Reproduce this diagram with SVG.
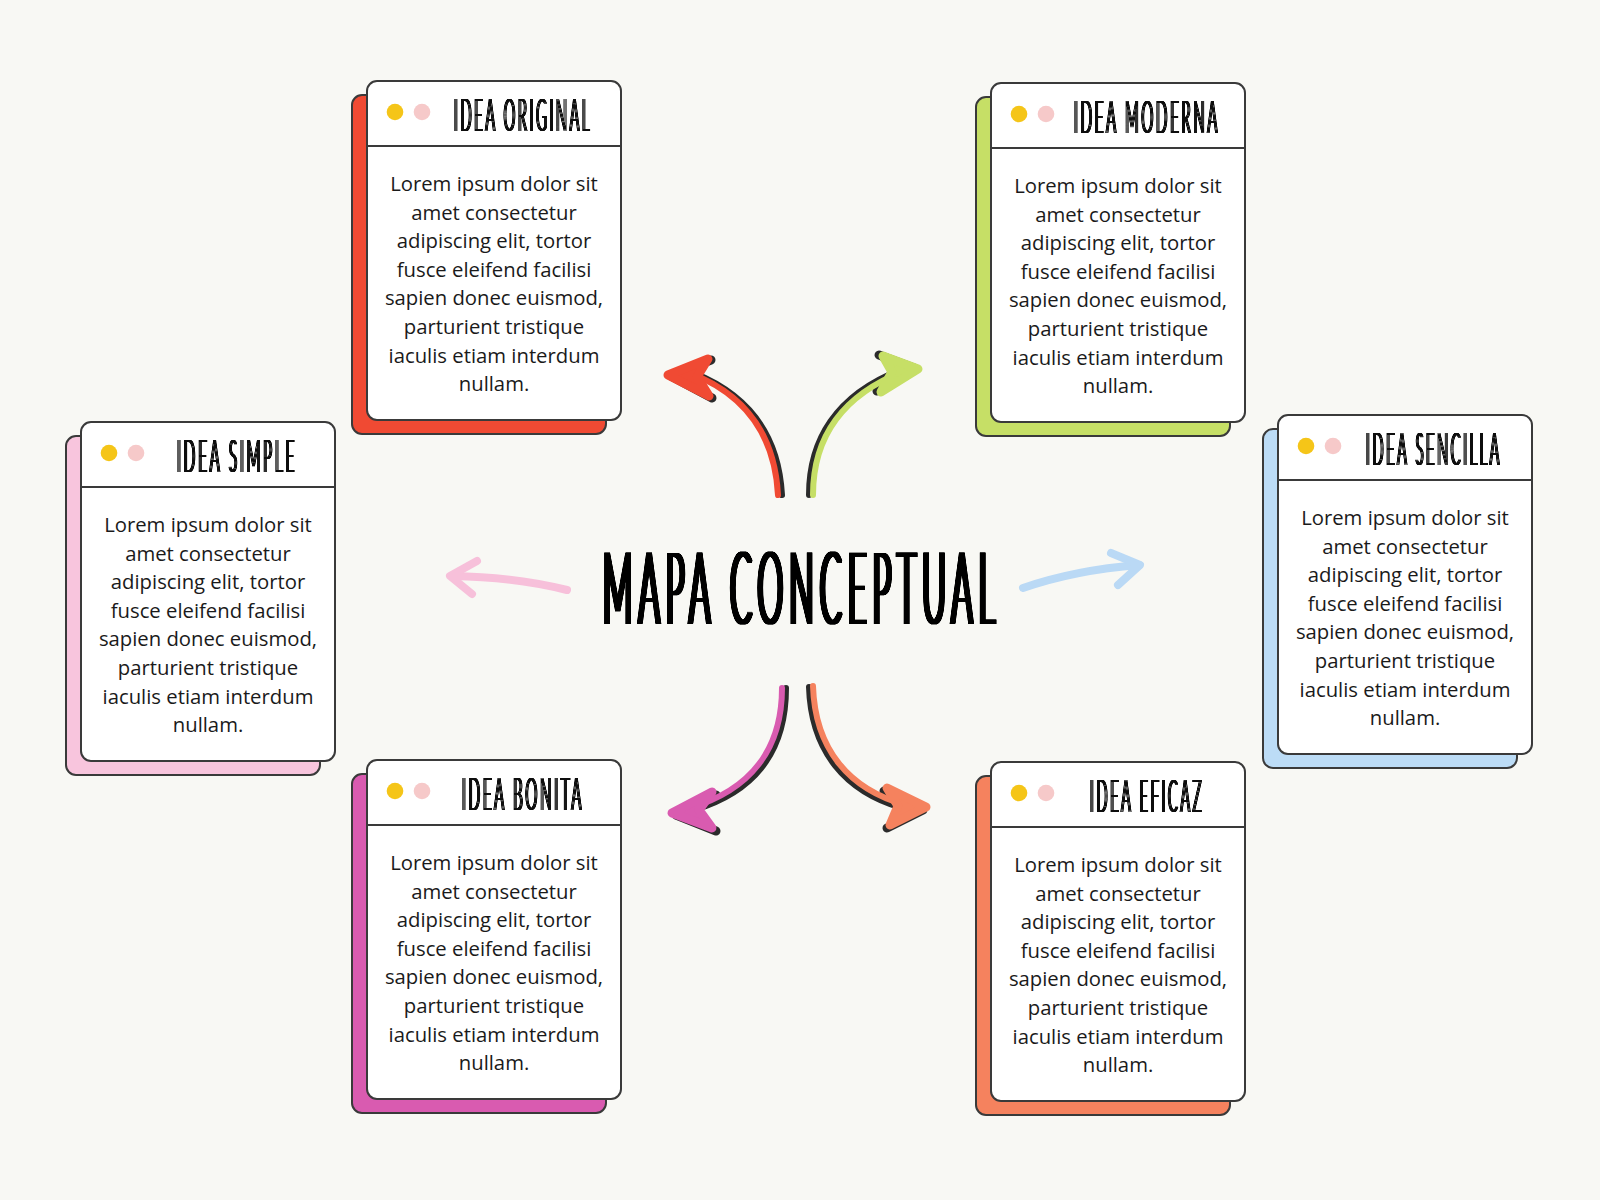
<svg xmlns="http://www.w3.org/2000/svg" width="1600" height="1200" viewBox="0 0 1600 1200">
<defs>
<filter id="fatT" x="-5%" y="-10%" width="110%" height="120%">
<feMorphology operator="dilate" radius="2 0"/>
<feComponentTransfer><feFuncA type="linear" slope="1.6"/></feComponentTransfer>
</filter>
<filter id="fatH" x="-5%" y="-10%" width="110%" height="120%">
<feMorphology operator="dilate" radius="1 0"/>
<feComponentTransfer><feFuncA type="linear" slope="1.6"/></feComponentTransfer>
</filter>
</defs>
<style>
.bg{fill:#F8F8F4}
.front{fill:#FFFFFF;stroke:#3A3A3A;stroke-width:2}
.back{stroke:#3A3A3A;stroke-width:2}
.hline{stroke:#3A3A3A;stroke-width:2}
.dy{fill:#F5C518}
.dp{fill:#F6C9C9}
.head{font-family:Lato,Roboto,"Liberation Sans",sans-serif;font-weight:300;font-size:46px;letter-spacing:9px;fill:#111;text-anchor:middle;filter:url(#fatH)}
.body{font-family:"Open Sans","Noto Sans",sans-serif;font-size:20.3px;fill:#1a1a1a;text-anchor:middle}
.title{font-family:Lato,Roboto,"Liberation Sans",sans-serif;font-weight:300;font-size:101px;letter-spacing:19px;fill:#000;text-anchor:middle;filter:url(#fatT)}
.sh{fill:none;stroke:#2B2B2B;stroke-linecap:round;stroke-linejoin:round}
.ar{fill:none;stroke-linecap:round;stroke-linejoin:round}
</style>
<rect class="bg" x="0" y="0" width="1600" height="1200"/>

<g id="title">
<text class="title" x="802" y="624" textLength="398" lengthAdjust="spacingAndGlyphs">MAPA CONCEPTUAL</text>
</g>

<g id="connectors">
<!-- red -->
<g>
<path class="sh" d="M782,495 C779,440 754,397 694,373" stroke-width="6"/>
<path class="sh" d="M711,360 L671,376 L712,398" stroke-width="9"/>
<path class="ar" d="M778,495 C775,440 750,396 690,373" stroke="#F04A33" stroke-width="6"/>
<path d="M708,359 L668,375 L709,396 L697,377 Z" fill="#F04A33" stroke="#F04A33" stroke-width="9" stroke-linejoin="round"/>
</g>
<!-- green -->
<g>
<path class="sh" d="M809,495 C809,440 836,395 900,370" stroke-width="6"/>
<path class="sh" d="M879,355 L914,368 L877,391" stroke-width="9"/>
<path class="ar" d="M813,495 C813,440 840,396 904,371" stroke="#C6DF66" stroke-width="6"/>
<path d="M883,356 L918,369 L881,392 L892,372 Z" fill="#C6DF66" stroke="#C6DF66" stroke-width="9" stroke-linejoin="round"/>
</g>
<!-- magenta -->
<g>
<path class="sh" d="M786,688 C786,752 754,792 694,810" stroke-width="6"/>
<path class="sh" d="M716,795 L676,815 L716,831" stroke-width="9"/>
<path class="ar" d="M782,688 C782,750 750,790 690,808" stroke="#D95BB0" stroke-width="6"/>
<path d="M712,792 L672,813 L712,828 L699,810 Z" fill="#D95BB0" stroke="#D95BB0" stroke-width="9" stroke-linejoin="round"/>
</g>
<!-- orange -->
<g>
<path class="sh" d="M809,687 C811,752 846,792 902,808" stroke-width="6"/>
<path class="sh" d="M884,791 L923,810 L887,828" stroke-width="9"/>
<path class="ar" d="M813,686 C815,750 850,790 906,805" stroke="#F5825E" stroke-width="6"/>
<path d="M887,788 L926,807 L890,825 L898,806 Z" fill="#F5825E" stroke="#F5825E" stroke-width="9" stroke-linejoin="round"/>
</g>
<!-- pink -->
<g>
<path class="ar" d="M567,590 Q515,577 452,576" stroke="#F7C0DA" stroke-width="8"/>
<path class="ar" d="M477,561 L450,576 L472,594" stroke="#F7C0DA" stroke-width="8"/>
</g>
<!-- blue -->
<g>
<path class="ar" d="M1023,588 Q1075,570 1139,565" stroke="#BAD9F5" stroke-width="8"/>
<path class="ar" d="M1111,553 L1140,565 L1118,585" stroke="#BAD9F5" stroke-width="8"/>
</g>
</g>

<g id="node-original">
<rect class="back" x="352" y="95" width="254" height="339" rx="10" fill="#F04A33"/>
<rect class="front" x="367" y="81" width="254" height="339" rx="10"/>
<line class="hline" x1="367" y1="146" x2="621" y2="146"/>
<circle class="dy" cx="395" cy="112" r="8.3"/>
<circle class="dp" cx="422" cy="112" r="8.3"/>
<text class="head" x="523" y="130.6" textLength="138" lengthAdjust="spacingAndGlyphs">IDEA ORIGINAL</text>
<text class="body" x="494" y="191">Lorem ipsum dolor sit</text>
<text class="body" x="494" y="219.6">amet consectetur</text>
<text class="body" x="494" y="248.2">adipiscing elit, tortor</text>
<text class="body" x="494" y="276.8">fusce eleifend facilisi</text>
<text class="body" x="494" y="305.4">sapien donec euismod,</text>
<text class="body" x="494" y="334">parturient tristique</text>
<text class="body" x="494" y="362.6">iaculis etiam interdum</text>
<text class="body" x="494" y="391.2">nullam.</text>
</g>

<g id="node-moderna">
<rect class="back" x="976" y="97" width="254" height="339" rx="10" fill="#C6DF66"/>
<rect class="front" x="991" y="83" width="254" height="339" rx="10"/>
<line class="hline" x1="991" y1="148" x2="1245" y2="148"/>
<circle class="dy" cx="1019" cy="114" r="8.3"/>
<circle class="dp" cx="1046" cy="114" r="8.3"/>
<text class="head" x="1147" y="132.6" textLength="146" lengthAdjust="spacingAndGlyphs">IDEA MODERNA</text>
<text class="body" x="1118" y="193">Lorem ipsum dolor sit</text>
<text class="body" x="1118" y="221.6">amet consectetur</text>
<text class="body" x="1118" y="250.2">adipiscing elit, tortor</text>
<text class="body" x="1118" y="278.8">fusce eleifend facilisi</text>
<text class="body" x="1118" y="307.4">sapien donec euismod,</text>
<text class="body" x="1118" y="336">parturient tristique</text>
<text class="body" x="1118" y="364.6">iaculis etiam interdum</text>
<text class="body" x="1118" y="393.2">nullam.</text>
</g>

<g id="node-simple">
<rect class="back" x="66" y="436" width="254" height="339" rx="10" fill="#F8C5DD"/>
<rect class="front" x="81" y="422" width="254" height="339" rx="10"/>
<line class="hline" x1="81" y1="487" x2="335" y2="487"/>
<circle class="dy" cx="109" cy="453" r="8.3"/>
<circle class="dp" cx="136" cy="453" r="8.3"/>
<text class="head" x="237" y="471.6" textLength="120" lengthAdjust="spacingAndGlyphs">IDEA SIMPLE</text>
<text class="body" x="208" y="532">Lorem ipsum dolor sit</text>
<text class="body" x="208" y="560.6">amet consectetur</text>
<text class="body" x="208" y="589.2">adipiscing elit, tortor</text>
<text class="body" x="208" y="617.8">fusce eleifend facilisi</text>
<text class="body" x="208" y="646.4">sapien donec euismod,</text>
<text class="body" x="208" y="675">parturient tristique</text>
<text class="body" x="208" y="703.6">iaculis etiam interdum</text>
<text class="body" x="208" y="732.2">nullam.</text>
</g>

<g id="node-sencilla">
<rect class="back" x="1263" y="429" width="254" height="339" rx="10" fill="#BCDCF6"/>
<rect class="front" x="1278" y="415" width="254" height="339" rx="10"/>
<line class="hline" x1="1278" y1="480" x2="1532" y2="480"/>
<circle class="dy" cx="1306" cy="446" r="8.3"/>
<circle class="dp" cx="1333" cy="446" r="8.3"/>
<text class="head" x="1434" y="464.6" textLength="136" lengthAdjust="spacingAndGlyphs">IDEA SENCILLA</text>
<text class="body" x="1405" y="525">Lorem ipsum dolor sit</text>
<text class="body" x="1405" y="553.6">amet consectetur</text>
<text class="body" x="1405" y="582.2">adipiscing elit, tortor</text>
<text class="body" x="1405" y="610.8">fusce eleifend facilisi</text>
<text class="body" x="1405" y="639.4">sapien donec euismod,</text>
<text class="body" x="1405" y="668">parturient tristique</text>
<text class="body" x="1405" y="696.6">iaculis etiam interdum</text>
<text class="body" x="1405" y="725.2">nullam.</text>
</g>

<g id="node-bonita">
<rect class="back" x="352" y="774" width="254" height="339" rx="10" fill="#D95BB0"/>
<rect class="front" x="367" y="760" width="254" height="339" rx="10"/>
<line class="hline" x1="367" y1="825" x2="621" y2="825"/>
<circle class="dy" cx="395" cy="791" r="8.3"/>
<circle class="dp" cx="422" cy="791" r="8.3"/>
<text class="head" x="523" y="809.6" textLength="122" lengthAdjust="spacingAndGlyphs">IDEA BONITA</text>
<text class="body" x="494" y="870">Lorem ipsum dolor sit</text>
<text class="body" x="494" y="898.6">amet consectetur</text>
<text class="body" x="494" y="927.2">adipiscing elit, tortor</text>
<text class="body" x="494" y="955.8">fusce eleifend facilisi</text>
<text class="body" x="494" y="984.4">sapien donec euismod,</text>
<text class="body" x="494" y="1013">parturient tristique</text>
<text class="body" x="494" y="1041.6">iaculis etiam interdum</text>
<text class="body" x="494" y="1070.2">nullam.</text>
</g>

<g id="node-eficaz">
<rect class="back" x="976" y="776" width="254" height="339" rx="10" fill="#F5825E"/>
<rect class="front" x="991" y="762" width="254" height="339" rx="10"/>
<line class="hline" x1="991" y1="827" x2="1245" y2="827"/>
<circle class="dy" cx="1019" cy="793" r="8.3"/>
<circle class="dp" cx="1046" cy="793" r="8.3"/>
<text class="head" x="1147" y="811.6" textLength="114" lengthAdjust="spacingAndGlyphs">IDEA EFICAZ</text>
<text class="body" x="1118" y="872">Lorem ipsum dolor sit</text>
<text class="body" x="1118" y="900.6">amet consectetur</text>
<text class="body" x="1118" y="929.2">adipiscing elit, tortor</text>
<text class="body" x="1118" y="957.8">fusce eleifend facilisi</text>
<text class="body" x="1118" y="986.4">sapien donec euismod,</text>
<text class="body" x="1118" y="1015">parturient tristique</text>
<text class="body" x="1118" y="1043.6">iaculis etiam interdum</text>
<text class="body" x="1118" y="1072.2">nullam.</text>
</g>
</svg>
